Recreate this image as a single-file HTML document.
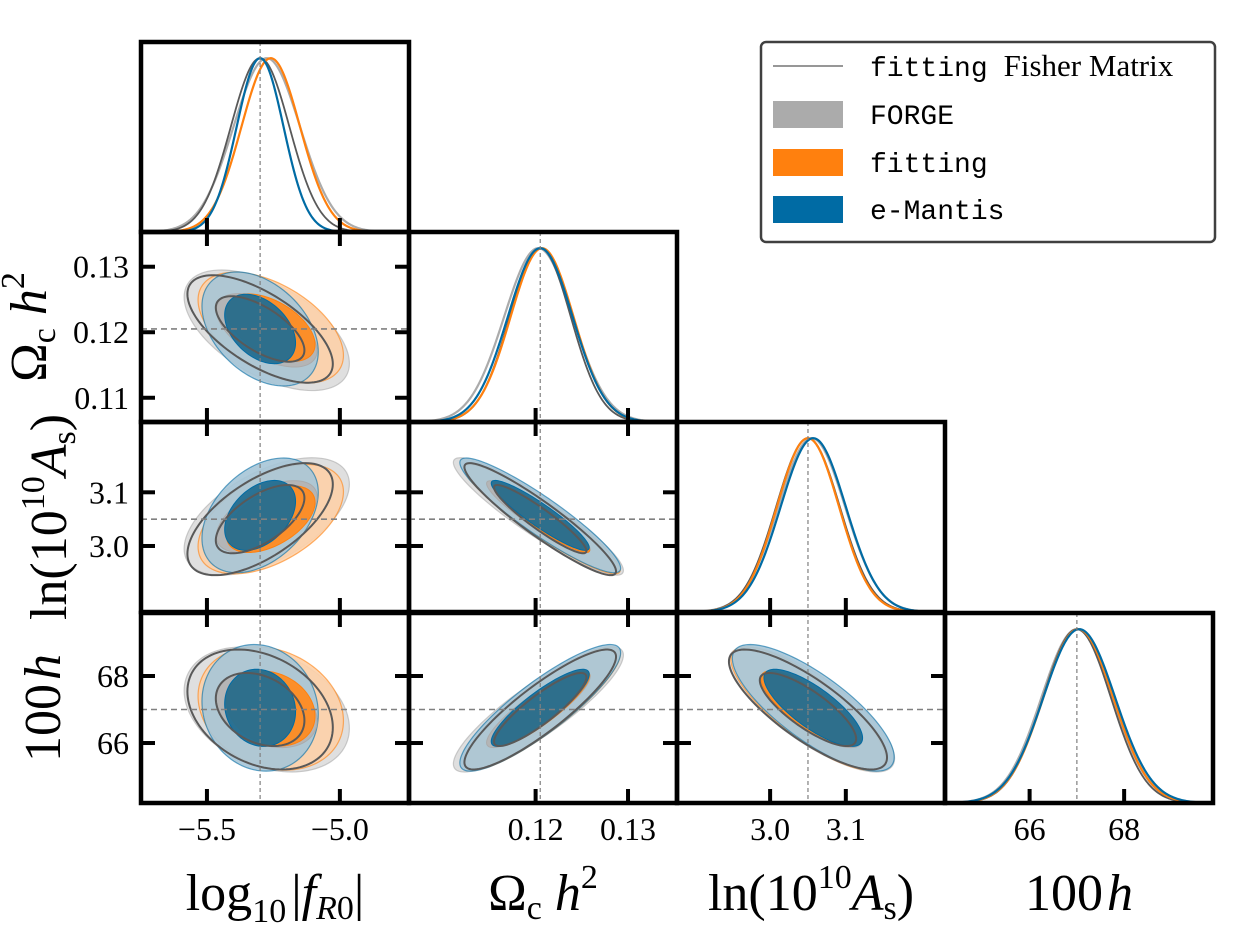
<!DOCTYPE html>
<html><head><meta charset="utf-8"><style>
html,body{margin:0;padding:0;background:#fff;}
svg{display:block;}
.tk{font-family:"Liberation Serif",serif;font-size:32px;fill:#000;}
.al{font-family:"Liberation Serif",serif;font-size:52px;fill:#000;}
.lg{font-family:"Liberation Mono",monospace;font-size:28px;fill:#000;}
.lgs{font-family:"Liberation Serif",serif;font-size:31px;fill:#000;}
</style></head><body>
<svg id="c" width="1236" height="948" viewBox="0 0 1236 948" xmlns="http://www.w3.org/2000/svg"></svg>
<script>
// ---- data ----
const paramNames = ['log10fR0','omega_c_h2','ln10As','100h'];
const truthValues = [-5.30, 0.1205, 3.05, 67.0];
const meanForge = [-5.275, 0.1203, 3.055, 67.0];
const meanFitting = [-5.26, 0.1207, 3.05, 67.03];
const meanEmantis = [-5.30, 0.1205, 3.057, 67.05];
const meanFisher = [-5.30, 0.1205, 3.05, 67.0];
const sigForge = [0.125, 0.0037, 0.044, 0.75];
const sigFitting = [0.11, 0.0034, 0.041, 0.74];
const sigEmantis = [0.088, 0.0035, 0.043, 0.76];
const sigFisher = [0.11, 0.0033, 0.042, 0.72];
// pair order: f-om, f-As, f-h, om-As, om-h, As-h
const corrForge = [-0.55, 0.55, -0.3, -0.92, 0.87, -0.78];
const corrFitting = [-0.5, 0.5, -0.2, -0.93, 0.88, -0.8];
const corrEmantis = [-0.4, 0.4, -0.1, -0.92, 0.87, -0.78];
const corrFisher = [-0.65, 0.62, -0.3, -0.93, 0.88, -0.8];
const xTicks = [[-5.5,-5.0],[0.12,0.13],[3.0,3.1],[66,68]];
const xTickLabels = [['\u22125.5','\u22125.0'],['0.12','0.13'],['3.0','3.1'],['66','68']];
const yTicks = [[],[0.11,0.12,0.13],[3.0,3.1],[66,68]];
const yTickLabels = [[],['0.11','0.12','0.13'],['3.0','3.1'],['66','68']];
const ranges = [[-5.748,-4.740],[0.1063,0.1353],[2.877,3.231],[64.21,69.88]];

// ---- layout ----
const colX=[141,409,677,945], W=268;
const rowY=[42,232,422,613], H=190;
const NS='http://www.w3.org/2000/svg';
const svg=document.getElementById('c');
function el(tag,attrs,parent){const e=document.createElementNS(NS,tag);for(const k in attrs)e.setAttribute(k,attrs[k]);(parent||svg).appendChild(e);return e;}
function sx(p,c,v){return colX[c]+(v-ranges[p][0])/(ranges[p][1]-ranges[p][0])*W;}
function sy(p,r,v){return rowY[r]+H-(v-ranges[p][0])/(ranges[p][1]-ranges[p][0])*H;}
function pairIdx(a,b){const m={'0,1':0,'0,2':1,'0,3':2,'1,2':3,'1,3':4,'2,3':5};return m[a+','+b];}

const methods=[
 {name:'forge',mean:meanForge,sig:sigForge,corr:corrForge,col:'#ABABAB',outer:'#dcdcdc',inner:'#b4b4b4',fill:true},
 {name:'fitting',mean:meanFitting,sig:sigFitting,corr:corrFitting,col:'#FF800E',outer:'#fdd0a8',inner:'#ff8c22',fill:true},
 {name:'emantis',mean:meanEmantis,sig:sigEmantis,corr:corrEmantis,col:'#006BA4',outer:'#a6c5d7',inner:'#236e91',fill:true},
 {name:'fisher',mean:meanFisher,sig:sigFisher,corr:corrFisher,col:'#595959',fill:false}
];

function ellipsePath(p,q,c,r,m,k){
  const mx=m.mean[p],my=m.mean[q],s1=m.sig[p],s2=m.sig[q],rho=m.corr[pairIdx(p,q)];
  let d='';
  for(let i=0;i<=120;i++){
    const t=i/120*2*Math.PI, u=Math.cos(t), v=Math.sin(t);
    const x=mx+k*s1*u, y=my+k*s2*(rho*u+Math.sqrt(1-rho*rho)*v);
    d+=(i?'L':'M')+sx(p,c,x).toFixed(2)+','+sy(q,r,y).toFixed(2);
  }
  return d+'Z';
}

for(let r=0;r<4;r++){
  for(let c=0;c<=r;c++){
    const g=el('g',{});
    
    
    const cp=el('clipPath',{id:'cp'+r+c},g);
    el('rect',{x:colX[c],y:rowY[r],width:W,height:H},cp);
    const inner=el('g',{'clip-path':'url(#cp'+r+c+')'},g);
    if(c===r){
      const lo=ranges[c][0],hi=ranges[c][1];
      const order=[methods[0],methods[3],methods[1],methods[2]];
      for(const m of order){
        let d='';
        for(let i=0;i<=200;i++){
          const v=lo+(hi-lo)*i/200;
          const z=(v-m.mean[c])/m.sig[c];
          const y=Math.exp(-0.5*z*z)/1.093;
          d+=(i?'L':'M')+sx(c,c,v).toFixed(2)+','+(rowY[r]+H-y*H).toFixed(2);
        }
        const pth=el('path',{d:d,fill:'none',stroke:m.col,'stroke-width':m.fill?2.2:1.8},inner);
        
        
      }
      const tl=el('line',{x1:sx(c,c,truthValues[c]),x2:sx(c,c,truthValues[c]),y1:rowY[r],y2:rowY[r]+H,stroke:'#808080','stroke-width':1.2,'stroke-dasharray':'4,3'},inner);
      
      
    } else {
      const p=c,q=r;
      for(const m of methods){
        if(!m.fill)continue;
        const o=el('path',{d:ellipsePath(p,q,c,r,m,2.486),fill:m.outer,'fill-opacity':0.9,stroke:m.col,'stroke-width':1.2,'stroke-opacity':0.6},inner);
        
        
      }
      for(const m of methods){
        if(!m.fill)continue;
        const o=el('path',{d:ellipsePath(p,q,c,r,m,1.515),fill:m.inner,'fill-opacity':0.95,stroke:m.col,'stroke-width':1},inner);
        
        
      }
      const fm=methods[3];
      for(const k of [2.486,1.515]){
        const o=el('path',{d:ellipsePath(p,q,c,r,fm,k),fill:'none',stroke:fm.col,'stroke-width':2},inner);
        
        
      }
      const vx=sx(p,c,truthValues[p]), hy=sy(q,r,truthValues[q]);
      const l1=el('line',{x1:vx,x2:vx,y1:rowY[r],y2:rowY[r]+H,stroke:'#808080','stroke-width':1.2,'stroke-dasharray':'4,3'},inner);
      
      
      const l2=el('line',{x1:colX[c],x2:colX[c]+W,y1:hy,y2:hy,stroke:'#808080','stroke-width':1.6,'stroke-dasharray':'6,4'},inner);
      
      
      for(const t of yTicks[r]){
        const y=sy(q,r,t);
        el('line',{x1:colX[c],x2:colX[c]+14,y1:y,y2:y,stroke:'#000','stroke-width':4},g);
        el('line',{x1:colX[c]+W-14,x2:colX[c]+W,y1:y,y2:y,stroke:'#000','stroke-width':4},g);
      }
      for(const t of xTicks[c]){
        const x=sx(p,c,t);
        el('line',{x1:x,x2:x,y1:rowY[r],y2:rowY[r]+14,stroke:'#000','stroke-width':4},g);
      }
    }
    for(const t of xTicks[c]){
      const x=sx(c,c,t);
      el('line',{x1:x,x2:x,y1:rowY[r]+H-14,y2:rowY[r]+H,stroke:'#000','stroke-width':4},g);
    }
    const fr=el('rect',{x:colX[c],y:rowY[r],width:W,height:H,fill:'none',stroke:'#000','stroke-width':4.5},g);
    
    
  }
}
for(let c=0;c<4;c++){
  xTicks[c].forEach((t,i)=>{
    const tx=el('text',{x:sx(c,c,t),y:840,'text-anchor':'middle',class:'tk'});
    tx.textContent=xTickLabels[c][i];
    
    
  });
}
for(let r=1;r<4;r++){
  yTicks[r].forEach((t,i)=>{
    const tx=el('text',{x:129,y:sy(r,r,t)+11,'text-anchor':'end',class:'tk'});
    tx.textContent=yTickLabels[r][i];
    
    
  });
}
</script>
<svg width="1236" height="948" style="position:absolute;left:0;top:0;pointer-events:none" xmlns="http://www.w3.org/2000/svg">
 <g>
  <text class="al" x="275" y="910" text-anchor="middle">log<tspan font-size="34" dy="12">10</tspan><tspan dy="-12" dx="5">|</tspan><tspan font-style="italic">f</tspan><tspan font-size="34" dy="9" font-style="italic">R</tspan><tspan font-size="34">0</tspan><tspan dy="-9">|</tspan></text>
  <text class="al" x="543" y="910" text-anchor="middle">Ω<tspan font-size="34" dy="9">c</tspan><tspan dy="-9" font-style="italic"> h</tspan><tspan font-size="34" dy="-22">2</tspan></text>
  <text class="al" x="811" y="910" text-anchor="middle">ln(10<tspan font-size="34" dy="-22">10</tspan><tspan dy="22" font-style="italic">A</tspan><tspan font-size="34" dy="9">s</tspan><tspan dy="-9">)</tspan></text>
  <text class="al" x="1079" y="910" text-anchor="middle">100<tspan font-style="italic" dx="4">h</tspan></text>
 </g>
 <g>
  <text class="al" transform="translate(46,327) rotate(-90)" text-anchor="middle">Ω<tspan font-size="34" dy="9">c</tspan><tspan dy="-9" font-style="italic"> h</tspan><tspan font-size="34" dy="-22">2</tspan></text>
  <text class="al" transform="translate(66,517) rotate(-90)" text-anchor="middle">ln(10<tspan font-size="34" dy="-22">10</tspan><tspan dy="22" font-style="italic">A</tspan><tspan font-size="34" dy="9">s</tspan><tspan dy="-9">)</tspan></text>
  <text class="al" transform="translate(60,708) rotate(-90)" text-anchor="middle">100<tspan font-style="italic" dx="4">h</tspan></text>
 </g>
 <g>
  <rect x="761" y="42" width="454" height="200" rx="5" fill="#fff" stroke="#404040" stroke-width="2.5"/>
  <line x1="773" x2="843" y1="66" y2="66" stroke="#595959" stroke-width="1.2"/>
  <text class="lg" x="870" y="76">fitting<tspan class="lgs" dx="16">Fisher Matrix</tspan></text>
  <rect x="773" y="101" width="70" height="27" fill="#ABABAB"/>
  <text class="lg" x="870" y="124">FORGE</text>
  <rect x="773" y="149" width="70" height="27" fill="#FF800E"/>
  <text class="lg" x="870" y="172">fitting</text>
  <rect x="773" y="196" width="70" height="27" fill="#006BA4"/>
  <text class="lg" x="870" y="219">e-Mantis</text>
 </g>
</svg>
</body></html>
